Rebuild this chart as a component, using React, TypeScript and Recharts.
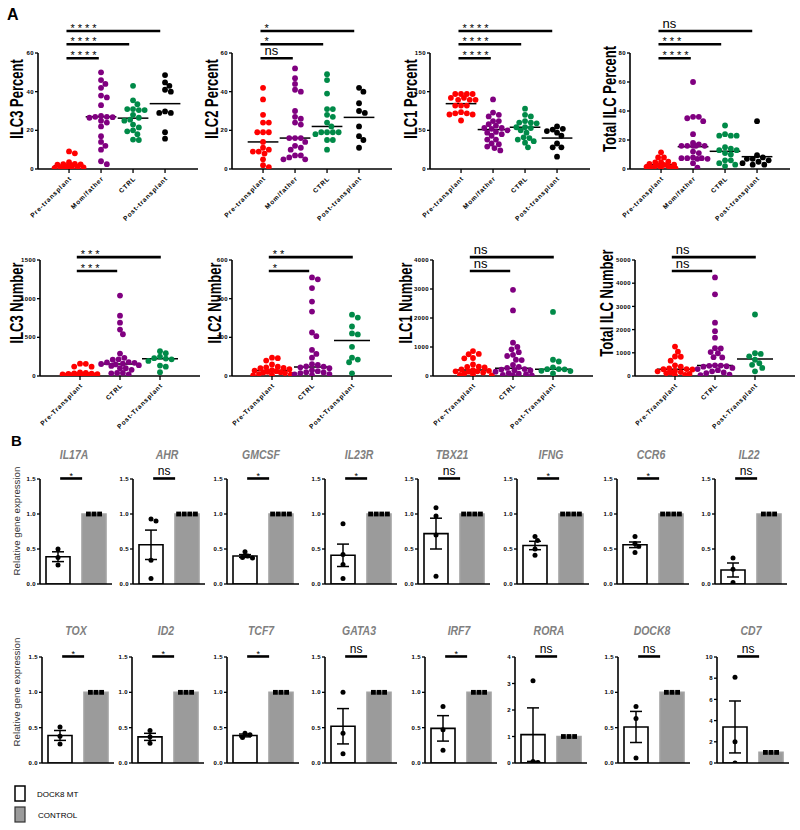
import React from "react";
import {
  Bar,
  Cell,
  ComposedChart,
  ErrorBar,
  ReferenceLine,
  Scatter,
  ScatterChart,
  XAxis,
  YAxis,
} from "recharts";

// ---------- panel A data ----------
const PCT_GROUPS = ["Pre-transplant", "Mom/father", "CTRL", "Post-transplant"];
const NUM_GROUPS = ["Pre-Transplant", "CTRL", "Post-Transplant"];
const PCT_COLORS = ["#ff0000", "#800080", "#008a48", "#000000"];
const NUM_COLORS = ["#ff0000", "#800080", "#008a48"];

const ILC3_PCT = [
  [9.1, 8.1, 3.5, 2.6, 2.5, 2.4, 2.2, 2.0, 1.8, 1.5, 1.2, 1.0, 0.8, 0.5, 0.4, 0.3, 0.2],
  [50, 46, 44, 42, 38, 37, 33, 27.5, 27, 27, 26.8, 26.5, 25, 24, 22, 17, 14, 12, 10, 4, 2.5],
  [43, 35.5, 33.5, 31, 31, 30.5, 30.5, 28, 26.5, 25.5, 25, 23, 21.5, 20, 19.5, 18, 15.2, 15],
  [48.6, 44.8, 43, 41, 40, 29.8, 29, 29, 19, 15.7],
];
const ILC3_PCT_MED = [1.7, 27, 26.3, 33.8];
const ILC3_PCT_SIG = ["****", "****", "****"];

const ILC2_PCT = [
  [42, 36, 28, 24, 24, 19, 19, 19, 14, 11, 10, 9, 9, 8, 5, 2, 1],
  [52, 47, 44, 41, 40, 30, 27, 26, 24, 23, 16, 16, 16, 14, 12, 11, 10, 7, 7, 6, 5, 5],
  [49, 46, 39, 31, 31, 28, 27, 24, 22, 19, 19, 19, 19, 18, 15, 15, 10],
  [42, 40, 34, 30, 29, 22, 17, 15, 11],
];
const ILC2_PCT_MED = [14, 16, 22, 26.7];
const ILC2_PCT_SIG = ["ns", "*", "*"];

const ILC1_PCT = [
  [97, 97, 97, 97, 92, 92, 89.5, 89.5, 89.5, 82, 82, 82, 73.5, 72, 72, 70.5, 70.5, 62.7],
  [90, 73, 70, 68, 62, 62, 58, 56, 53, 53, 52, 50, 48, 47, 45, 43, 38, 38, 33, 32, 29, 27, 24],
  [78, 70, 68, 62, 60, 60, 59, 54, 54, 53, 50, 47, 41, 40, 38, 36, 34, 28],
  [55, 52, 51, 49, 47, 43, 33, 28, 28, 16],
];
const ILC1_PCT_MED = [84.5, 51, 54, 40];
const ILC1_PCT_SIG = ["****", "****", "****"];

const TOT_PCT = [
  [11.5, 8, 8, 5, 4.8, 4.5, 3.5, 3, 2.8, 2.5, 2, 2, 1.5, 1, 0.8, 0.5, 0.3],
  [60, 36, 36, 35, 33, 24, 18, 17, 16, 16, 16, 16, 16, 12, 11, 8, 7.5, 7.5, 7.5, 7, 7, 4, 1],
  [30, 24, 23, 23, 23, 15, 14, 13, 13, 11, 10, 6, 6, 4, 3, 2],
  [33, 9.5, 8, 7, 7, 6, 5, 4, 3, 3],
];
const TOT_PCT_MED = [3, 15.4, 12.2, 8.5];
const TOT_PCT_SIG = ["****", "***", "ns"];

const ILC3_NUM = [
  [160, 158, 122, 120, 45, 40, 35, 30, 28, 25, 22, 20, 18, 15, 12, 10, 8, 5, 3],
  [1040, 780, 690, 600, 540, 290, 235, 215, 210, 180, 175, 170, 160, 155, 150, 140, 130, 100, 100, 80, 40, 40, 35, 20],
  [320, 295, 250, 230, 225, 215, 195, 135, 120, 50],
];
const ILC3_NUM_MED = [26, 155, 224];
const ILC3_NUM_SIG = ["***", "***"];

const ILC2_NUM = [
  [95, 92, 80, 60, 48, 45, 42, 40, 35, 30, 28, 25, 22, 20, 18, 15, 10, 8, 5, 3],
  [510, 500, 455, 385, 333, 225, 206, 135, 114, 95, 61, 57, 50, 48, 45, 40, 30, 25, 20, 18, 15, 10, 8, 5],
  [317, 302, 256, 220, 215, 151, 95, 85, 71, 14],
];
const ILC2_NUM_MED = [28, 47, 184];
const ILC2_NUM_SIG = ["*", "**"];

const ILC1_NUM = [
  [860, 760, 750, 620, 610, 400, 320, 310, 300, 230, 200, 180, 160, 160, 150, 120, 90, 50, 40, 20],
  [2970, 2260, 1150, 1000, 920, 820, 730, 690, 560, 550, 380, 310, 280, 240, 220, 200, 190, 150, 100, 80, 60, 40, 30, 20],
  [2210, 560, 500, 300, 240, 235, 230, 180, 170, 90],
];
const ILC1_NUM_MED = [208, 266, 231];
const ILC1_NUM_SIG = ["ns", "ns"];

const TOT_NUM = [
  [1270, 1050, 840, 830, 660, 460, 400, 330, 300, 290, 280, 220, 200, 170, 150, 120, 90, 50, 30],
  [4250, 3520, 2300, 1930, 1650, 1200, 1190, 1030, 980, 810, 800, 460, 450, 440, 420, 400, 350, 300, 250, 200, 150, 120, 60, 40],
  [2650, 980, 950, 850, 700, 550, 480, 350, 200],
];
const TOT_NUM_MED = [289, 448, 737];
const TOT_NUM_SIG = ["ns", "ns"];

// ---------- panel B data ----------
const BAR_GROUPS = ["DOCK8 MT", "CONTROL"];
const GENES_1 = ["IL17A", "AHR", "GMCSF", "IL23R", "TBX21", "IFNG", "CCR6", "IL22"];
const MEANS_1 = [0.39, 0.56, 0.4, 0.41, 0.72, 0.55, 0.56, 0.2];
const SEMS_1 = [0.07, 0.21, 0.02, 0.16, 0.22, 0.06, 0.04, 0.1];
const POINTS_1 = [
  [0.5, 0.38, 0.27],
  [0.93, 0.9, 0.34, 0.08],
  [0.46, 0.4, 0.38, 0.37],
  [0.86, 0.42, 0.28, 0.08],
  [1.09, 0.97, 0.7, 0.11],
  [0.68, 0.62, 0.5, 0.41],
  [0.68, 0.58, 0.54, 0.45],
  [0.37, 0.21, 0.02],
];
const CTRL_N_1 = [3, 4, 4, 4, 4, 4, 4, 3];
const SIG_1 = ["*", "ns", "*", "*", "ns", "*", "*", "ns"];
const YMAX_1 = [1.5, 1.5, 1.5, 1.5, 1.5, 1.5, 1.5, 1.5];

const GENES_2 = ["TOX", "ID2", "TCF7", "GATA3", "IRF7", "RORA", "DOCK8", "CD7"];
const MEANS_2 = [0.39, 0.37, 0.39, 0.52, 0.49, 1.07, 0.51, 3.4];
const SEMS_2 = [0.07, 0.05, 0.02, 0.25, 0.18, 1.01, 0.22, 2.45];
const POINTS_2 = [
  [0.51, 0.38, 0.27],
  [0.46, 0.37, 0.28],
  [0.42, 0.4, 0.36],
  [1.0, 0.42, 0.13],
  [0.8, 0.47, 0.18],
  [3.1, 0.06, 0.02],
  [0.8, 0.63, 0.07],
  [8.1, 2.0, 0.0],
];
const CTRL_N_2 = [3, 3, 3, 3, 3, 3, 3, 3];
const SIG_2 = ["*", "*", "*", "ns", "*", "ns", "ns", "ns"];
const YMAX_2 = [1.5, 1.5, 1.5, 1.5, 1.5, 4, 1.5, 10];
const CTRL_LEVEL = 1.0;

// ---------- layout ----------
const ROW1_X = [38, 232, 430, 630];
const ROW2_X = [40, 232, 433, 635];
const ROW1_TITLE_DX = [-22, -21, -20, -21];
const ROW2_TITLE_DX = [-24, -18, -28, -29];
const ROW3_X = [40, 133, 227, 325, 418, 517, 617, 715];
const ROW4_X = [42, 132, 227, 325, 425, 515, 618, 717];
const DOT_R = 2.9;
const FONT = "'Liberation Sans', Arial, sans-serif";
const AXIS = { stroke: "#000", strokeWidth: 1.6 };
const TICK_LINE = { stroke: "#000", strokeWidth: 1.3 };
const Y_TICK = { fontSize: 6, fontWeight: 700, fill: "#000", letterSpacing: 0.4 };

// beeswarm offsets (x units), capped at maxOff px so dense clusters overlap like the original
function swarm(values: number[], yMax: number, plotH: number, pxPerX: number, r: number, maxOff: number): number[] {
  const placed: { x: number; y: number }[] = [];
  const out = values.map(() => 0);
  const order = values.map((_, i) => i).sort((a, b) => values[b] - values[a]);
  const minD = 2 * r * 0.92;
  order.forEach((i) => {
    const py = (values[i] / yMax) * plotH;
    let best = 0;
    let bestD = -1;
    for (let k = 0; k < 200; k++) {
      const off = (k % 2 ? 1 : -1) * Math.ceil(k / 2) * r * 0.5;
      if (Math.abs(off) > maxOff) break;
      const d = placed.length ? Math.min(...placed.map((q) => Math.hypot(q.x - off, q.y - py))) : Infinity;
      if (d >= minD) {
        best = off;
        bestD = d;
        break;
      }
      if (d > bestD + 0.5) {
        bestD = d;
        best = off;
      }
    }
    placed.push({ x: best, y: py });
    out[i] = best / pxPerX;
  });
  return out;
}

const sigLabel = (text: string, mode: "start" | "middle", size: number) => (lp: any) => {
  const vb = lp.viewBox || { x: 0, y: 0, width: 0 };
  const star = text.includes("*");
  const x = mode === "start" ? vb.x + 4 : vb.x + vb.width / 2;
  const y = star ? vb.y + 1 : vb.y - 3;
  return (
    <text x={x} y={y} textAnchor={mode} fontSize={size} letterSpacing={star && mode === "start" ? 3 : 0} fill="#000">
      {text}
    </text>
  );
};

function RotTick(props: any) {
  const { x, y, payload, labels } = props;
  const ax = x + 3;
  const ay = y + 4;
  return (
    <text x={ax} y={ay} transform={`rotate(-45 ${ax} ${ay})`} textAnchor="end" fontSize={6.5} fontWeight={700} letterSpacing={0.8} fill="#000">
      {labels[payload.value]}
    </text>
  );
}

type DotProps = {
  axisX: number;
  plotTop: number;
  groups: string[];
  colors: string[];
  values: number[][];
  medians: number[];
  yMax: number;
  yTicks: number[];
  sigs: string[];
  sigEnds: number[];
  sigYs: number[];
  domain: [number, number];
  halfLine: number;
  spread: number;
};

function DotPanel(p: DotProps) {
  const plotW = 160;
  const plotH = 116;
  const left = 32;
  const top = 50;
  const bottom = 64;
  const right = 6;
  const pxPerX = plotW / (p.domain[1] - p.domain[0]);
  const series = p.values.map((vals, gi) => {
    const offs = swarm(vals, p.yMax, plotH, pxPerX, DOT_R, p.spread);
    return vals.map((v, j) => ({ x: gi + offs[j], y: v }));
  });
  return (
    <div style={{ position: "absolute", left: p.axisX - left, top: p.plotTop - top }}>
      <ScatterChart width={left + plotW + right} height={top + plotH + bottom} margin={{ top, right, bottom: bottom - 30, left: 0 }}>
        <XAxis
          type="number"
          dataKey="x"
          domain={p.domain}
          ticks={p.groups.map((_, i) => i)}
          interval={0}
          allowDataOverflow
          height={30}
          tickSize={4}
          axisLine={AXIS}
          tickLine={TICK_LINE}
          tick={(tp: any) => <RotTick {...tp} labels={p.groups} />}
        />
        <YAxis
          type="number"
          dataKey="y"
          domain={[0, p.yMax]}
          ticks={p.yTicks}
          interval={0}
          allowDataOverflow
          width={left}
          tickSize={3}
          tickMargin={1}
          axisLine={AXIS}
          tickLine={TICK_LINE}
          tick={Y_TICK}
        />
        {series.map((pts, gi) => (
          <Scatter
            key={gi}
            name={p.groups[gi]}
            data={pts}
            fill={p.colors[gi]}
            isAnimationActive={false}
            shape={(sp: any) => <circle cx={sp.cx} cy={sp.cy} r={DOT_R} fill={p.colors[gi]} />}
          />
        ))}
        {p.medians.map((m, gi) => (
          <ReferenceLine
            key={"m" + gi}
            segment={[
              { x: gi - p.halfLine, y: m },
              { x: gi + p.halfLine, y: m },
            ]}
            stroke="#000"
            strokeWidth={1.5}
            ifOverflow="visible"
          />
        ))}
        {p.sigs.map((s, k) => (
          <ReferenceLine
            key={"s" + k}
            segment={[
              { x: -0.08, y: p.yMax * p.sigYs[k] },
              { x: p.sigEnds[k], y: p.yMax * p.sigYs[k] },
            ]}
            stroke="#000"
            strokeWidth={2.6}
            ifOverflow="visible"
            label={sigLabel(s, "start", s === "ns" ? 13 : 11)}
          />
        ))}
      </ScatterChart>
    </div>
  );
}

type BarProps = {
  axisX: number;
  plotTop: number;
  plotH: number;
  mean: number;
  sem: number;
  points: number[];
  nCtrl: number;
  sig: string;
  yMax: number;
};

function BarPanel(p: BarProps) {
  const plotW = 72;
  const left = 24;
  const top = 18;
  const right = 6;
  const xh = 8;
  const domain: [number, number] = [-0.5, 1.5];
  const pxPerX = plotW / (domain[1] - domain[0]);
  const rows = [
    { name: BAR_GROUPS[0], mean: p.mean, err: p.sem },
    { name: BAR_GROUPS[1], mean: CTRL_LEVEL },
  ];
  const offs = swarm(p.points, p.yMax, p.plotH, pxPerX, 2.5, 8);
  const pts = p.points.map((v, j) => ({ x: offs[j], y: v }));
  const sq = Array.from({ length: p.nCtrl }, (_, j) => ({ x: 1 + ((j - (p.nCtrl - 1) / 2) * 5.6) / pxPerX, y: CTRL_LEVEL }));
  const yTicks = p.yMax === 1.5 ? [0, 0.5, 1, 1.5] : p.yMax === 4 ? [0, 1, 2, 3, 4] : [0, 2, 4, 6, 8, 10];
  const fmt = (v: number) => (p.yMax === 1.5 ? v.toFixed(1) : String(v));
  const sigY = p.yMax * 1.005;
  return (
    <div style={{ position: "absolute", left: p.axisX - left, top: p.plotTop - top }}>
      <ComposedChart width={left + plotW + right} height={top + p.plotH + xh} data={rows} margin={{ top, right, bottom: 0, left: 0 }}>
        <XAxis
          type="category"
          dataKey="name"
          interval={0}
          tick={false}
          tickSize={3}
          height={xh}
          axisLine={AXIS}
          tickLine={TICK_LINE}
        />
        <XAxis xAxisId="n" type="number" dataKey="x" domain={domain} allowDataOverflow hide />
        <YAxis
          type="number"
          domain={[0, p.yMax]}
          ticks={yTicks}
          tickFormatter={fmt}
          interval={0}
          allowDataOverflow
          width={left}
          tickSize={3}
          tickMargin={1}
          axisLine={AXIS}
          tickLine={TICK_LINE}
          tick={Y_TICK}
        />
        <Bar dataKey="mean" barSize={24} isAnimationActive={false} strokeWidth={1.6}>
          <Cell fill="#ffffff" stroke="#000" />
          <Cell fill="#9b9b9b" stroke="#a3a3a3" />
          <ErrorBar dataKey="err" width={6} stroke="#000" strokeWidth={1.5} direction="y" />
        </Bar>
        <Scatter
          xAxisId="n"
          data={pts}
          dataKey="y"
          isAnimationActive={false}
          shape={(sp: any) => <circle cx={sp.cx} cy={sp.cy} r={2.5} fill="#000" />}
        />
        <Scatter
          xAxisId="n"
          data={sq}
          dataKey="y"
          isAnimationActive={false}
          shape={(sp: any) => <rect x={sp.cx - 2.4} y={sp.cy - 2.4} width={4.8} height={4.8} fill="#000" />}
        />
        <ReferenceLine
          xAxisId="n"
          segment={[
            { x: 0.06, y: sigY },
            { x: 0.67, y: sigY },
          ]}
          stroke="#000"
          strokeWidth={2.6}
          ifOverflow="visible"
          label={sigLabel(p.sig, "middle", p.sig === "ns" ? 12 : 9)}
        />
      </ComposedChart>
    </div>
  );
}

const YTitle = ({ x, y, text }: { x: number; y: number; text: string }) => (
  <text
    transform={`translate(${x},${y}) rotate(-90) scale(1,1.45)`}
    textAnchor="middle"
    dominantBaseline="central"
    fontSize={13}
    fontWeight={700}
    fill="#000"
  >
    {text}
  </text>
);

const GeneTitle = ({ x, y, text }: { x: number; y: number; text: string }) => (
  <text transform={`translate(${x},${y}) scale(1,1.3)`} textAnchor="middle" fontSize={10.5} fontStyle="italic" fontWeight={700} fill="#808080">
    {text}
  </text>
);

export default function App() {
  const pctDomain: [number, number] = [-0.97, 4.03];
  const numDomain: [number, number] = [-1, 3.0];
  const pctSigY = [0.955, 1.075, 1.19];
  const pctSigEnd = [0.93, 1.88, 2.85];
  const numSigY = [0.905, 1.025];
  const numSigEnd = [0.93, 2.02];
  const row1 = [
    { t: "ILC3 Percent", v: ILC3_PCT, m: ILC3_PCT_MED, s: ILC3_PCT_SIG, max: 60, ticks: [0, 20, 40, 60] },
    { t: "ILC2 Percent", v: ILC2_PCT, m: ILC2_PCT_MED, s: ILC2_PCT_SIG, max: 60, ticks: [0, 20, 40, 60] },
    { t: "ILC1 Percent", v: ILC1_PCT, m: ILC1_PCT_MED, s: ILC1_PCT_SIG, max: 150, ticks: [0, 50, 100, 150] },
    { t: "Total ILC Percent", v: TOT_PCT, m: TOT_PCT_MED, s: TOT_PCT_SIG, max: 80, ticks: [0, 20, 40, 60, 80] },
  ];
  const row2 = [
    { t: "ILC3 Number", v: ILC3_NUM, m: ILC3_NUM_MED, s: ILC3_NUM_SIG, max: 1500, ticks: [0, 500, 1000, 1500] },
    { t: "ILC2 Number", v: ILC2_NUM, m: ILC2_NUM_MED, s: ILC2_NUM_SIG, max: 600, ticks: [0, 200, 400, 600] },
    { t: "ILC1 Number", v: ILC1_NUM, m: ILC1_NUM_MED, s: ILC1_NUM_SIG, max: 4000, ticks: [0, 1000, 2000, 3000, 4000] },
    { t: "Total ILC Number", v: TOT_NUM, m: TOT_NUM_MED, s: TOT_NUM_SIG, max: 5000, ticks: [0, 1000, 2000, 3000, 4000, 5000] },
  ];
  return (
    <div style={{ position: "absolute", left: 0, top: 0, width: 800, height: 830, background: "#fff", fontFamily: FONT, overflow: "hidden" }}>
      {row1.map((r, i) => (
        <DotPanel
          key={r.t}
          axisX={ROW1_X[i]}
          plotTop={53}
          groups={PCT_GROUPS}
          colors={PCT_COLORS}
          values={r.v}
          medians={r.m}
          yMax={r.max}
          yTicks={r.ticks}
          sigs={r.s}
          sigEnds={pctSigEnd}
          sigYs={pctSigY}
          domain={pctDomain}
          halfLine={0.48}
          spread={15}
        />
      ))}
      {row2.map((r, i) => (
        <DotPanel
          key={r.t}
          axisX={ROW2_X[i]}
          plotTop={260}
          groups={NUM_GROUPS}
          colors={NUM_COLORS}
          values={r.v}
          medians={r.m}
          yMax={r.max}
          yTicks={r.ticks}
          sigs={r.s}
          sigEnds={numSigEnd}
          sigYs={numSigY}
          domain={numDomain}
          halfLine={0.45}
          spread={19}
        />
      ))}
      {GENES_1.map((g, i) => (
        <BarPanel
          key={g}
          axisX={ROW3_X[i]}
          plotTop={479}
          plotH={105}
          mean={MEANS_1[i]}
          sem={SEMS_1[i]}
          points={POINTS_1[i]}
          nCtrl={CTRL_N_1[i]}
          sig={SIG_1[i]}
          yMax={YMAX_1[i]}
        />
      ))}
      {GENES_2.map((g, i) => (
        <BarPanel
          key={g}
          axisX={ROW4_X[i]}
          plotTop={657}
          plotH={106}
          mean={MEANS_2[i]}
          sem={SEMS_2[i]}
          points={POINTS_2[i]}
          nCtrl={CTRL_N_2[i]}
          sig={SIG_2[i]}
          yMax={YMAX_2[i]}
        />
      ))}
      <svg width={800} height={830} style={{ position: "absolute", left: 0, top: 0, pointerEvents: "none" }}>
        <text x={7} y={20} fontSize={16} fontWeight={700} fill="#000">A</text>
        <text x={11} y={446} fontSize={15} fontWeight={700} fill="#000">B</text>
        {row1.map((r, i) => (
          <YTitle key={r.t} x={ROW1_X[i] + ROW1_TITLE_DX[i]} y={99} text={r.t} />
        ))}
        {row2.map((r, i) => (
          <YTitle key={r.t} x={ROW2_X[i] + ROW2_TITLE_DX[i]} y={303} text={r.t} />
        ))}
        {GENES_1.map((g, i) => (
          <GeneTitle key={g} x={ROW3_X[i] + 34} y={459} text={g} />
        ))}
        {GENES_2.map((g, i) => (
          <GeneTitle key={g} x={ROW4_X[i] + 34} y={635} text={g} />
        ))}
        <text transform="translate(16,521) rotate(-90)" textAnchor="middle" dominantBaseline="central" fontSize={9.7} fill="#333">
          Relative gene expression
        </text>
        <text transform="translate(16,692) rotate(-90)" textAnchor="middle" dominantBaseline="central" fontSize={9.7} fill="#333">
          Relative gene expression
        </text>
        <rect x={15} y={786} width={10} height={15} fill="#fff" stroke="#000" strokeWidth={1.5} />
        <text x={37} y={797} fontSize={8} fill="#000">DOCK8 MT</text>
        <rect x={15} y={807} width={10} height={15} fill="#9b9b9b" stroke="#333" strokeWidth={1.2} />
        <text x={38} y={818} fontSize={8} fill="#000">CONTROL</text>
      </svg>
    </div>
  );
}
